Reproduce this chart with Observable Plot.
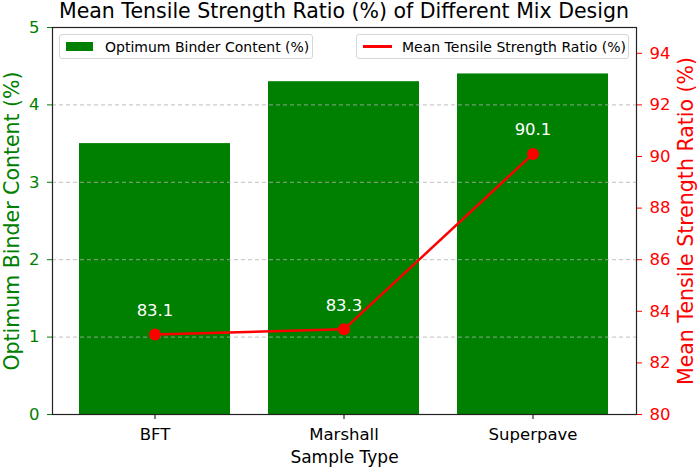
<!DOCTYPE html>
<html>
<head>
<meta charset="utf-8">
<script src="https://cdn.jsdelivr.net/npm/d3@7"></script>
<script src="https://cdn.jsdelivr.net/npm/@observablehq/plot@0.6"></script>
<style>
  body { margin: 0; background: #fff; font-family: "DejaVu Sans", sans-serif; }
  #wrap { position: relative; width: 699px; height: 470px; }
  #title { position: absolute; top: -1px; left: 52px; width: 584px; text-align: center; font-size: 20.5px; line-height: 24px; color: #000; white-space: nowrap; }
  .legend { position: absolute; top: 34px; height: 25px; box-sizing: border-box; border: 1px solid #d6d6d6; border-radius: 3px; background: rgba(255,255,255,0.85); font-size: 14px; color: #000; display: flex; align-items: center; white-space: nowrap; }
  .legend .sw { display: inline-block; margin-left: 6px; margin-right: 12px; }
</style>
</head>
<body>
<div id="wrap">
  <div id="chart"></div>
  <div id="title">Mean Tensile Strength Ratio (%) of Different Mix Design</div>
  <div class="legend" style="left:59px; width:254px;"><span class="sw" style="width:27px;height:9px;background:#008000;"></span><span>Optimum Binder Content (%)</span></div>
  <div class="legend" style="left:356px; width:273px;"><span class="sw" style="width:29px;height:2.5px;background:#ff0000;margin-right:10px;"></span><span>Mean Tensile Strength Ratio (%)</span></div>
</div>
<script>
const categories = ["BFT", "Marshall", "Superpave"];
const binderContent = [3.5, 4.3, 4.4];
const tensileRatio = [83.1, 83.3, 90.1];
const leftTicks = [0, 1, 2, 3, 4, 5];
const rightTicks = [80, 82, 84, 86, 88, 90, 92, 94];
const gridTicks = [1, 2, 3, 4];
const rightDomain = [80, 95];
const leftDomain = [0, 5];

// map right-axis values onto the left (primary) scale
const toLeft = v => (v - rightDomain[0]) / (rightDomain[1] - rightDomain[0]) * (leftDomain[1] - leftDomain[0]) + leftDomain[0];
const fromLeft = d => (d - leftDomain[0]) / (leftDomain[1] - leftDomain[0]) * (rightDomain[1] - rightDomain[0]) + rightDomain[0];

const rows = categories.map((c, i) => ({cat: c, binder: binderContent[i], ratio: tensileRatio[i], ratioY: toLeft(tensileRatio[i])}));

const chart = Plot.plot({
  width: 699,
  height: 470,
  marginLeft: 52,
  marginRight: 63,
  marginTop: 27,
  marginBottom: 56,
  style: {fontFamily: "DejaVu Sans, sans-serif", background: "white"},
  x: {type: "band", domain: categories, paddingInner: 0.2, paddingOuter: 0.14},
  y: {domain: leftDomain},
  marks: [
    Plot.barY(rows, {x: "cat", y: "binder", fill: "#008000"}),
    Plot.gridY(gridTicks, {stroke: "#b0b0b0", strokeOpacity: 0.8, strokeDasharray: "4,3", strokeWidth: 1}),
    Plot.line(rows, {x: "cat", y: "ratioY", stroke: "#ff0000", strokeWidth: 2.5}),
    Plot.dot(rows, {x: "cat", y: "ratioY", r: 6, fill: "#ff0000"}),
    Plot.text(rows, {x: "cat", y: "ratioY", text: d => d.ratio.toFixed(1), fill: "white", fontSize: 16.5, dy: -24}),
    Plot.axisY(leftTicks, {anchor: "left", color: "#008000", fontSize: 16.5, tickSize: 5, tickPadding: 8, tickFormat: d => String(d), label: null}),
    Plot.axisY(rightTicks.map(toLeft), {anchor: "right", color: "#ff0000", fontSize: 16.5, tickSize: 5, tickPadding: 8, tickFormat: d => String(Math.round(fromLeft(d))), label: null}),
    Plot.axisX({color: "#000", fontSize: 16.5, tickSize: 5, tickPadding: 9, label: null}),
    Plot.frame({stroke: "#222", strokeWidth: 1.2}),
    Plot.text(["Optimum Binder Content (%)"], {frameAnchor: "left", rotate: -90, textAnchor: "middle", lineAnchor: "middle", dx: -40, fill: "#008000", fontSize: 20.5}),
    Plot.text(["Mean Tensile Strength Ratio (%)"], {frameAnchor: "right", rotate: -90, textAnchor: "middle", lineAnchor: "middle", dx: 50, fill: "#ff0000", fontSize: 20.5}),
    Plot.text(["Sample Type"], {frameAnchor: "bottom", lineAnchor: "middle", dy: 43, fill: "#000", fontSize: 17})
  ]
});
document.getElementById("chart").appendChild(chart);
</script>
</body>
</html>
